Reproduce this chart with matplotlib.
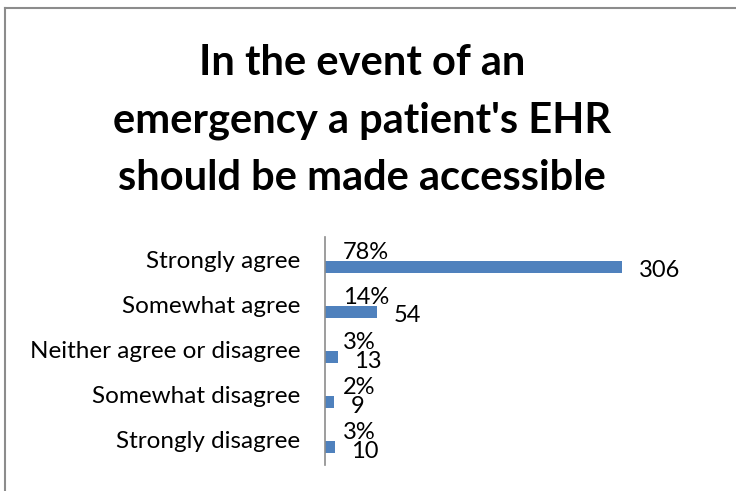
import numpy as np
import matplotlib.pyplot as plt

categories = ['Strongly agree', 'Somewhat agree', 'Neither agree or disagree',
              'Somewhat disagree', 'Strongly disagree']
counts = [306, 54, 13, 9, 10]
percents = ['78%', '14%', '3%', '2%', '3%']
title_lines = ["In the event of an", "emergency a patient's EHR", "should be made accessible"]

plt.rcParams['font.family'] = ['Lato', 'DejaVu Sans']

fig = plt.figure(figsize=(7.36, 4.91), dpi=100)

# outer frame (left and top edges)
fig.add_artist(plt.Line2D([5 / 736, 5 / 736], [0, 1 - 8 / 491], color='#8c8c8c', lw=1.5))
fig.add_artist(plt.Line2D([5 / 736, 1], [1 - 8 / 491, 1 - 8 / 491], color='#8c8c8c', lw=1.5))

# title, one line at a time (baselines in px from the top)
for line, base in zip(title_lines, [75, 133, 190]):
    fig.text(362 / 736, 1 - base / 491, line, ha='center', va='baseline',
             fontsize=30, fontweight='bold')

ax = fig.add_axes([325 / 736, 26 / 491, 400 * 0.97 / 736, 228 / 491])
y = np.arange(len(categories))
ax.barh(y, counts, height=0.27, color='#4f81bd')
ax.set_xlim(0, 400)
ax.set_ylim(4.4, -0.66)

ax.set_yticks([])
ax.set_xticks([])
for s in ['top', 'right', 'bottom']:
    ax.spines[s].set_visible(False)
ax.spines['left'].set_color('#8c8c8c')
ax.spines['left'].set_linewidth(1.2)

for yi, cat, c, p in zip(y, categories, counts, percents):
    ax.annotate(cat, (0, yi), xycoords=('axes fraction', 'data'), xytext=(-18, 4),
                textcoords='offset points', ha='right', va='center', fontsize=17.5)
    ax.annotate(p, (0, yi), xytext=(13, 3), textcoords='offset points',
                ha='left', va='bottom', fontsize=17)
    ax.annotate(str(c), (c, yi), xytext=(12, -3), textcoords='offset points',
                ha='left', va='center', fontsize=17)

fig.savefig('out.png', dpi=100)
